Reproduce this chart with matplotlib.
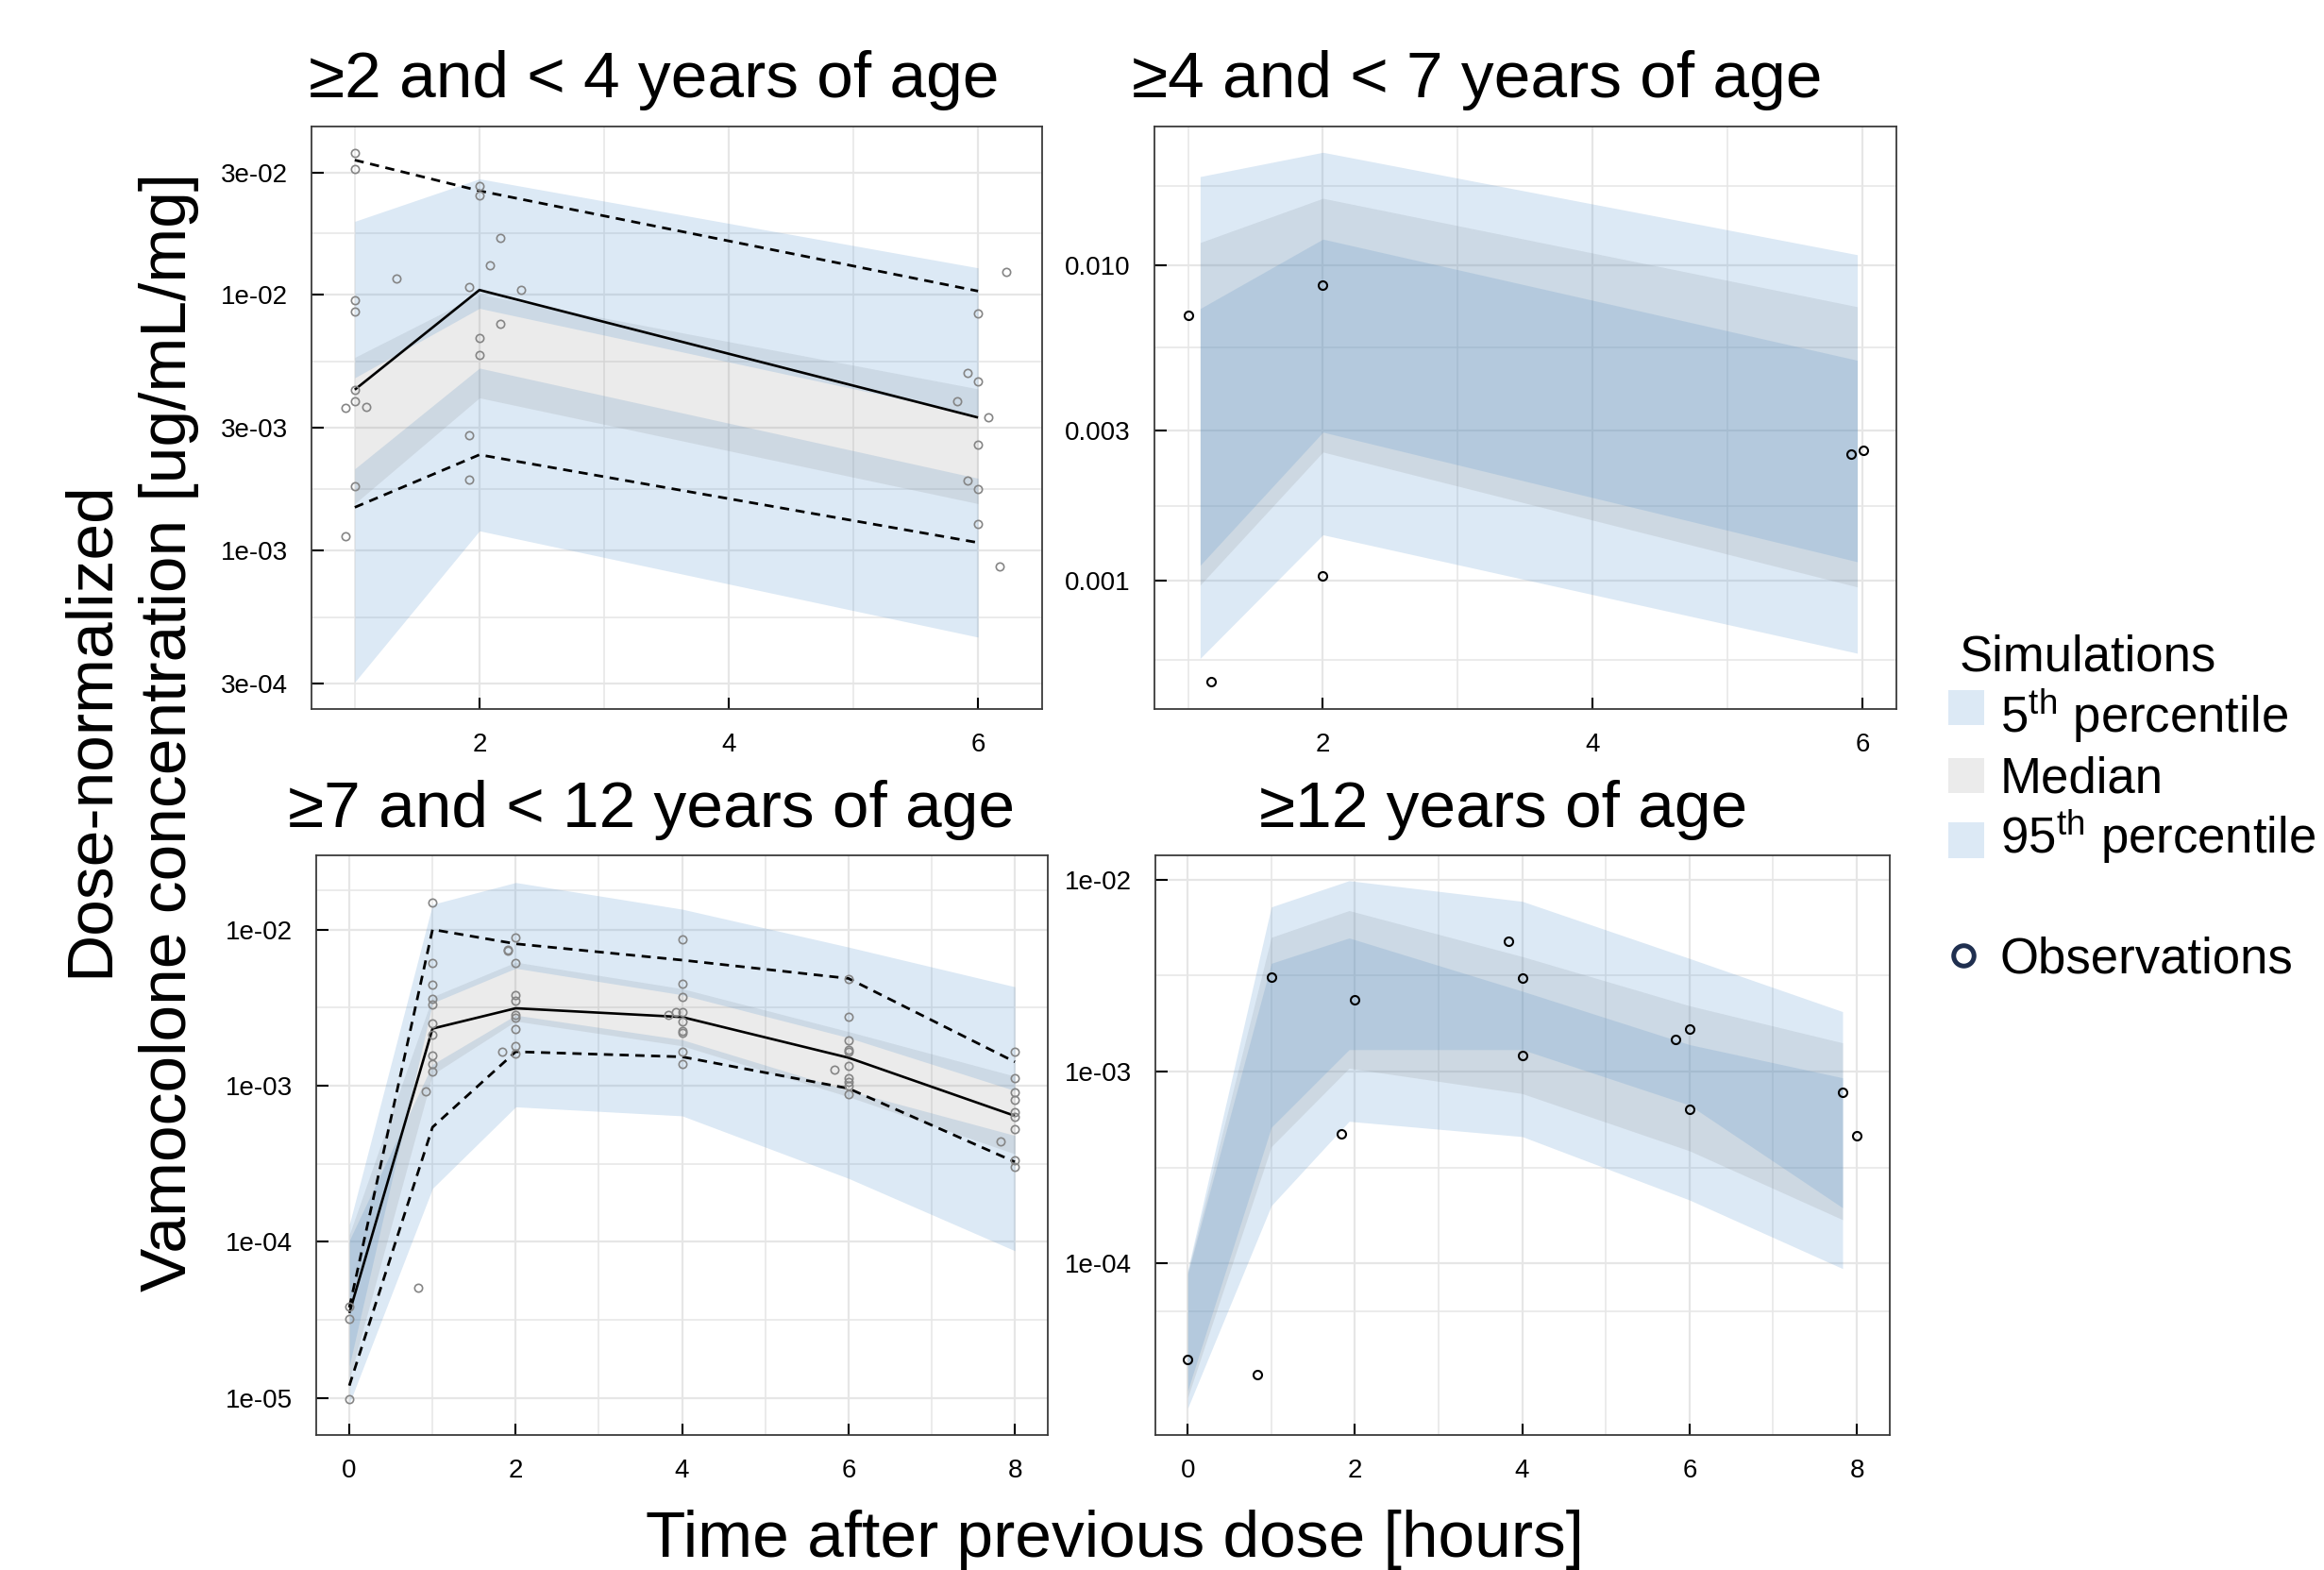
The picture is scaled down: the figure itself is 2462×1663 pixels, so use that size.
import matplotlib
matplotlib.use("Agg")
import matplotlib.pyplot as plt
from matplotlib.ticker import FixedLocator, FixedFormatter, NullFormatter
from matplotlib.patches import Rectangle
from matplotlib.lines import Line2D

plt.rcParams['font.family'] = ['Liberation Sans', 'DejaVu Sans']
plt.rcParams['mathtext.fontset'] = 'custom'
plt.rcParams['mathtext.rm'] = 'Liberation Sans'
plt.rcParams['mathtext.it'] = 'Liberation Sans:italic'
plt.rcParams['mathtext.bf'] = 'Liberation Sans:bold'

# ---------------- data ----------------
titles = ["\u22652 and < 4 years of age", "\u22654 and < 7 years of age",
          "\u22657 and < 12 years of age", "\u226512 years of age"]

# Panel 1 (>=2 and <4 years)
p1_x = [1, 2, 6]
p1_u_hi = [1.93e-2, 2.83e-2, 1.27e-2]
p1_u_lo = [4.72e-3, 8.82e-3, 3.36e-3]
p1_m_hi = [5.67e-3, 1.00e-2, 4.27e-3]
p1_m_lo = [1.52e-3, 3.94e-3, 1.52e-3]
p1_l_hi = [2.08e-3, 5.15e-3, 1.91e-3]
p1_l_lo = [3.05e-4, 1.19e-3, 4.57e-4]
p1_med = [4.24e-3, 1.04e-2, 3.30e-3]
p1_p95 = [3.35e-2, 2.54e-2, 1.03e-2]
p1_p05 = [1.47e-3, 2.36e-3, 1.07e-3]
p1_obs_t = [1.0, 1.0, 1.0, 1.0, 1.0, 1.0, 1.0, 0.925, 1.09, 0.925, 1.336,
            1.917, 1.917, 1.917, 2.0, 2.0, 2.0, 2.0, 2.087, 2.166, 2.166, 2.336,
            5.836, 5.917, 5.917, 6.0, 6.0, 6.0, 6.0, 6.0, 6.08, 6.17, 6.23]
p1_obs_c = [3.57e-2, 3.10e-2, 9.50e-3, 8.60e-3, 4.24e-3, 3.82e-3, 1.78e-3, 3.59e-3, 3.63e-3, 1.13e-3, 1.15e-2,
            1.07e-2, 2.82e-3, 1.88e-3, 2.65e-2, 2.43e-2, 6.74e-3, 5.80e-3, 1.30e-2, 1.66e-2, 7.69e-3, 1.04e-2,
            3.82e-3, 4.93e-3, 1.87e-3, 8.44e-3, 4.55e-3, 2.59e-3, 1.73e-3, 1.27e-3, 3.30e-3, 8.63e-4, 1.22e-2]

# Panel 2 (>=4 and <7 years)
p2_x = [1.09, 2.0, 5.96]
p2_u_hi = [1.91e-2, 2.28e-2, 1.08e-2]
p2_u_lo = [1.12e-3, 2.96e-3, 1.15e-3]
p2_m_hi = [1.18e-2, 1.63e-2, 7.39e-3]
p2_m_lo = [9.70e-4, 2.56e-3, 9.57e-4]
p2_l_hi = [7.29e-3, 1.21e-2, 5.00e-3]
p2_l_lo = [5.68e-4, 1.40e-3, 5.90e-4]
p2_obs_t = [1.0, 1.17, 2.0, 2.0, 5.914, 6.004]
p2_obs_c = [6.92e-3, 4.80e-4, 8.68e-3, 1.04e-3, 2.53e-3, 2.60e-3]

# Panel 3 (>=7 and <12 years)
p3_x = [0, 1, 2, 4, 6, 8]
p3_u_hi = [1.29e-4, 1.45e-2, 2.00e-2, 1.35e-2, 7.72e-3, 4.30e-3]
p3_u_lo = [1.61e-5, 3.39e-3, 5.65e-3, 3.82e-3, 2.03e-3, 9.30e-4]
p3_m_hi = [1.11e-4, 3.71e-3, 6.18e-3, 4.18e-3, 2.22e-3, 1.15e-3]
p3_m_lo = [1.31e-5, 1.18e-3, 2.59e-3, 1.80e-3, 8.50e-4, 3.66e-4]
p3_l_hi = [1.02e-4, 1.37e-3, 2.83e-3, 1.97e-3, 9.30e-4, 4.80e-4]
p3_l_lo = [9.20e-6, 2.20e-4, 7.32e-4, 6.41e-4, 2.55e-4, 8.77e-5]
p3_med = [3.50e-5, 2.32e-3, 3.13e-3, 2.75e-3, 1.51e-3, 6.41e-4]
p3_p95 = [3.80e-5, 1.00e-2, 8.10e-3, 6.37e-3, 4.86e-3, 1.42e-3]
p3_p05 = [1.20e-5, 5.42e-4, 1.65e-3, 1.53e-3, 9.60e-4, 3.25e-4]
p3_obs_t = [0, 0, 0, 0.829, 0.918,
            1, 1, 1, 1, 1, 1, 1, 1, 1, 1,
            1.835, 1.906, 1.906,
            2, 2, 2, 2, 2, 2, 2, 2, 2,
            3.83, 3.92,
            4, 4, 4, 4, 4, 4, 4, 4, 4,
            5.826,
            6, 6, 6, 6, 6, 6, 6, 6, 6, 6,
            7.827,
            8, 8, 8, 8, 8, 8, 8, 8, 8]
p3_obs_c = [3.85e-5, 3.21e-5, 9.9e-6, 5.1e-5, 9.2e-4,
            1.48e-2, 6.07e-3, 4.44e-3, 3.60e-3, 3.29e-3, 2.51e-3, 2.13e-3, 1.55e-3, 1.38e-3, 1.23e-3,
            1.65e-3, 7.40e-3, 7.27e-3,
            8.87e-3, 6.10e-3, 3.82e-3, 3.49e-3, 2.83e-3, 2.71e-3, 2.29e-3, 1.80e-3, 1.60e-3,
            2.83e-3, 2.95e-3,
            8.60e-3, 4.50e-3, 3.71e-3, 2.95e-3, 2.59e-3, 2.23e-3, 2.18e-3, 1.65e-3, 1.37e-3,
            1.26e-3,
            4.80e-3, 2.75e-3, 1.94e-3, 1.70e-3, 1.65e-3, 1.33e-3, 1.11e-3, 1.05e-3, 1.00e-3, 8.87e-4,
            4.39e-4,
            1.65e-3, 1.11e-3, 9.04e-4, 8.15e-4, 6.80e-4, 6.30e-4, 5.26e-4, 3.35e-4, 3.02e-4]

# Panel 4 (>=12 years)
p4_x = [0, 1, 1.93, 4, 6, 7.83]
p4_u_hi = [9.2e-5, 7.2e-3, 9.86e-3, 7.7e-3, 3.88e-3, 2.05e-3]
p4_u_lo = [2.17e-5, 5.12e-4, 1.30e-3, 1.30e-3, 6.68e-4, 1.95e-4]
p4_m_hi = [9.0e-5, 5.0e-3, 6.89e-3, 3.97e-3, 2.20e-3, 1.41e-3]
p4_m_lo = [2.0e-5, 4.06e-4, 1.04e-3, 7.67e-4, 3.86e-4, 1.69e-4]
p4_l_hi = [8.8e-5, 3.66e-3, 4.96e-3, 2.62e-3, 1.38e-3, 9.27e-4]
p4_l_lo = [1.76e-5, 2.0e-4, 5.5e-4, 4.58e-4, 2.14e-4, 9.4e-5]
p4_obs_t = [0, 0.83, 1.0, 1.835, 2.0, 3.836, 4.0, 4.0, 5.838, 6.0, 6.0, 7.83, 8.0]
p4_obs_c = [3.16e-5, 2.62e-5, 3.11e-3, 4.74e-4, 2.35e-3, 4.79e-3, 3.08e-3, 1.21e-3,
            1.47e-3, 1.67e-3, 6.37e-4, 7.82e-4, 4.65e-4]

# axis ticks
p1_yticks = [3e-4, 1e-3, 3e-3, 1e-2, 3e-2]
p1_ylabels = ["3e-04", "1e-03", "3e-03", "1e-02", "3e-02"]
p2_yticks = [1e-3, 3e-3, 1e-2]
p2_ylabels = ["0.001", "0.003", "0.010"]
p3_yticks = [1e-5, 1e-4, 1e-3, 1e-2]
p3_ylabels = ["1e-05", "1e-04", "1e-03", "1e-02"]
p4_yticks = [1e-4, 1e-3, 1e-2]
p4_ylabels = ["1e-04", "1e-03", "1e-02"]
top_xticks = [2, 4, 6]
bot_xticks = [0, 2, 4, 6, 8]

# ---------------- style ----------------
BLUE = (80 / 255, 145 / 255, 205 / 255)
GREY = (0.5, 0.5, 0.5)
A_BLUE = 0.2
A_GREY = 0.157
GRID = '#e6e6e6'

fig = plt.figure(figsize=(24.62, 16.63), dpi=100)

positions = [
    [0.134, 0.5486, 0.3144, 0.3711],
    [0.4966, 0.5486, 0.3194, 0.3711],
    [0.136, 0.086, 0.315, 0.3692],
    [0.497, 0.086, 0.316, 0.3692],
]


def minor_between(ticks, lo, hi):
    import math
    logs = sorted(math.log10(t) for t in ticks)
    out = []
    ext = [logs[0] - 0.5] + logs + [logs[-1] + 0.5]
    for a, b in zip(ext[:-1], ext[1:]):
        m = 10 ** ((a + b) / 2)
        if lo < m < hi:
            out.append(m)
    return out


def draw_panel(ax, x, lhi, llo, mhi, mlo, uhi, ulo, obs_t, obs_c, obs_color, obs_ms, obs_mew,
               xlim, ylim, yticks, ylabels, xticks, xminor, med=None, p95=None, p05=None):
    ax.set_yscale('log')
    ax.fill_between(x, llo, lhi, color=BLUE, alpha=A_BLUE, lw=0, zorder=1)
    ax.fill_between(x, mlo, mhi, color=GREY, alpha=A_GREY, lw=0, zorder=1)
    ax.fill_between(x, ulo, uhi, color=BLUE, alpha=A_BLUE, lw=0, zorder=1)
    if med is not None:
        ax.plot(x, med, color='black', lw=1.9, zorder=3, solid_capstyle='butt')
        ax.plot(x, p95, color='black', lw=2.0, dashes=(3.5, 2.5), zorder=3)
        ax.plot(x, p05, color='black', lw=2.0, dashes=(3.5, 2.5), zorder=3)
    ax.plot(obs_t, obs_c, ls='none', marker='o', mfc='none', mec=obs_color,
            ms=obs_ms, mew=obs_mew, zorder=4)
    ax.set_xlim(*xlim)
    ax.set_ylim(*ylim)
    ax.yaxis.set_major_locator(FixedLocator(yticks))
    ax.yaxis.set_major_formatter(FixedFormatter(ylabels))
    ax.yaxis.set_minor_locator(FixedLocator(minor_between(yticks, *ylim)))
    ax.yaxis.set_minor_formatter(NullFormatter())
    ax.xaxis.set_major_locator(FixedLocator(xticks))
    ax.xaxis.set_major_formatter(FixedFormatter([str(t) for t in xticks]))
    ax.xaxis.set_minor_locator(FixedLocator(xminor))
    ax.xaxis.set_minor_formatter(NullFormatter())
    ax.set_axisbelow(True)
    ax.grid(which='major', color=GRID, lw=1.6, zorder=0)
    ax.grid(which='minor', color=GRID, lw=1.1, zorder=0)
    ax.tick_params(which='major', direction='in', length=9, width=1.5, pad=18,
                   labelsize=20, colors='black')
    ax.tick_params(which='minor', length=0)
    for s in ax.spines.values():
        s.set_color('#3a3a3a')
        s.set_linewidth(1.3)


ax1 = fig.add_axes(positions[0])
draw_panel(ax1, p1_x, p1_l_hi, p1_l_lo, p1_m_hi, p1_m_lo, p1_u_hi, p1_u_lo,
           p1_obs_t, p1_obs_c, '#858585', 6, 1.2,
           (0.652, 6.514), (10 ** -3.62, 10 ** -1.342), p1_yticks, p1_ylabels,
           top_xticks, [1, 3, 5], med=p1_med, p95=p1_p95, p05=p1_p05)

ax2 = fig.add_axes(positions[1])
draw_panel(ax2, p2_x, p2_l_hi, p2_l_lo, p2_m_hi, p2_m_lo, p2_u_hi, p2_u_lo,
           p2_obs_t, p2_obs_c, 'black', 6.5, 1.5,
           (0.749, 6.25), (10 ** -3.405, 10 ** -1.559), p2_yticks, p2_ylabels,
           top_xticks, [1, 3, 5])

ax3 = fig.add_axes(positions[2])
draw_panel(ax3, p3_x, p3_l_hi, p3_l_lo, p3_m_hi, p3_m_lo, p3_u_hi, p3_u_lo,
           p3_obs_t, p3_obs_c, '#858585', 6, 1.2,
           (-0.4, 8.4), (10 ** -5.237, 10 ** -1.525), p3_yticks, p3_ylabels,
           bot_xticks, [1, 3, 5, 7], med=p3_med, p95=p3_p95, p05=p3_p05)

ax4 = fig.add_axes(positions[3])
draw_panel(ax4, p4_x, p4_l_hi, p4_l_lo, p4_m_hi, p4_m_lo, p4_u_hi, p4_u_lo,
           p4_obs_t, p4_obs_c, 'black', 6.5, 1.5,
           (-0.39, 8.39), (10 ** -4.894, 10 ** -1.874), p4_yticks, p4_ylabels,
           bot_xticks, [1, 3, 5, 7])

# titles
TFS = 50
fig.text(0.2815, 0.9379, titles[0], ha='center', va='baseline', fontsize=TFS)
fig.text(0.6355, 0.9379, titles[1], ha='center', va='baseline', fontsize=TFS)
fig.text(0.2803, 0.473, titles[2], ha='center', va='baseline', fontsize=TFS)
fig.text(0.647, 0.473, titles[3], ha='center', va='baseline', fontsize=TFS)

# axis labels
LFS = 50
fig.text(0.4796, 0.0085, "Time after previous dose [hours]", ha='center', va='baseline', fontsize=LFS)
fig.text(0.046, 0.5359, "Dose-normalized", rotation=90, rotation_mode='anchor',
         ha='center', va='baseline', fontsize=LFS)
fig.text(0.0799, 0.5335, "Vamocolone concentration [ug/mL/mg]", rotation=90,
         rotation_mode='anchor', ha='center', va='baseline', fontsize=LFS)

# legend
GFS = 38
LBLUE = '#dce9f5'
LGREY = '#ebebeb'
fig.text(0.8432, 0.5725, "Simulations", ha='left', va='baseline', fontsize=GFS)
for yb, col in [(0.538, LBLUE), (0.4949, LGREY), (0.4536, LBLUE)]:
    fig.add_artist(Rectangle((0.8383, yb), 0.0153, 0.0225, transform=fig.transFigure,
                             facecolor=col, edgecolor='none'))
fig.text(0.8605, 0.5334, r"5$^{\mathrm{th}}$ percentile", ha='left', va='baseline', fontsize=GFS)
fig.text(0.8605, 0.4953, "Median", ha='left', va='baseline', fontsize=GFS)
fig.text(0.8605, 0.4564, r"95$^{\mathrm{th}}$ percentile", ha='left', va='baseline', fontsize=GFS)
fig.add_artist(Line2D([0.8448], [0.3917], transform=fig.transFigure, ls='none', marker='o',
                      mfc='none', mec='#1f2f4f', ms=15.5, mew=3.6))
fig.text(0.8605, 0.3802, "Observations", ha='left', va='baseline', fontsize=GFS)

fig.savefig("out.png", dpi=100)
